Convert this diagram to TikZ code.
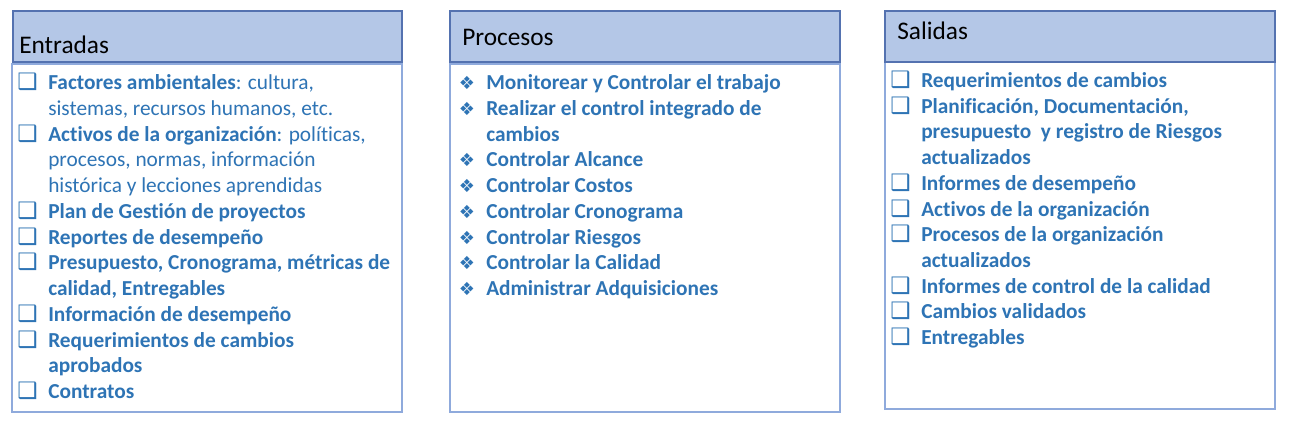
\documentclass[tikz,border=0pt]{standalone}
\usepackage{fontspec}
\setmainfont{Carlito}[Ligatures=NoCommon]
\newfontfamily\symf{DejaVu Sans}
\definecolor{tblue}{RGB}{46,116,181}
\definecolor{hfill}{RGB}{180,199,231}
\definecolor{hborder}{RGB}{84,114,176}
\definecolor{bborder}{RGB}{143,170,220}
\newcommand\Bq{\llap{{\color{tblue}\symf\fontsize{17}{17}\selectfont ❑}\hspace{8pt}}}
\newcommand\Bd{\llap{{\color{tblue}\symf\fontsize{13.5}{14}\selectfont ❖}\hspace{8.5pt}}}
\tikzset{
  hdr/.style={draw=hborder, line width=1.2pt, fill=hfill},
  bodybox/.style={draw=bborder, line width=1.2pt, fill=white},
  htxt/.style={anchor=base west, inner sep=0pt, text=black, font=\fontsize{19}{22}\selectfont},
  txt/.style={anchor=base west, inner sep=0pt, text=tblue, font=\fontsize{16}{19}\selectfont}
}
\begin{document}
\begin{tikzpicture}[x=0.75pt,y=-0.75pt]
\useasboundingbox (0,0) rectangle (1293,437);
% Entradas
\draw[bodybox] (12,64) rectangle (402,412);
\draw[hdr] (13,11) rectangle (402,62);
\node[htxt] (hE) at (19,53) {Entradas};
% Procesos
\draw[bodybox] (450,64) rectangle (840,412);
\draw[hdr] (450,11) rectangle (840,62);
\node[htxt] (hP) at (462,45.5) {Procesos};
% Salidas
\draw[bodybox] (885,62) rectangle (1275,409);
\draw[hdr] (885,11) rectangle (1275,62);
\node[htxt] (hS) at (897,39.5) {Salidas};
% Entradas items
\foreach \t [count=\i] in {
 {\Bq\textbf{Factores ambientales}: cultura,},
 {sistemas, recursos humanos, etc.},
 {\Bq\textbf{Activos de la organización}: políticas,},
 {procesos, normas, información},
 {histórica y lecciones aprendidas},
 {\Bq\textbf{Plan de Gestión de proyectos}},
 {\Bq\textbf{Reportes de desempeño}},
 {\Bq\textbf{Presupuesto, Cronograma, métricas de}},
 {\textbf{calidad, Entregables}},
 {\Bq\textbf{Información de desempeño}},
 {\Bq\textbf{Requerimientos de cambios}},
 {\textbf{aprobados}},
 {\Bq\textbf{Contratos}}}
 \node[txt] (e\i) at (48,{89.5+(\i-1)*25.75}) {\t};
% Procesos items
\foreach \t [count=\i] in {
 {\Bd\textbf{Monitorear y Controlar el trabajo}},
 {\Bd\textbf{Realizar el control integrado de}},
 {\textbf{cambios}},
 {\Bd\textbf{Controlar Alcance}},
 {\Bd\textbf{Controlar Costos}},
 {\Bd\textbf{Controlar Cronograma}},
 {\Bd\textbf{Controlar Riesgos}},
 {\Bd\textbf{Controlar la Calidad}},
 {\Bd\textbf{Administrar Adquisiciones}}}
 \node[txt] (p\i) at (486,{89.5+(\i-1)*25.75}) {\t};
% Salidas items
\foreach \t [count=\i] in {
 {\Bq\textbf{Requerimientos de cambios}},
 {\Bq\textbf{Planificación, Documentación,}},
 {\textbf{presupuesto\ \ y registro de Riesgos}},
 {\textbf{actualizados}},
 {\Bq\textbf{Informes de desempeño}},
 {\Bq\textbf{Activos de la organización}},
 {\Bq\textbf{Procesos de la organización}},
 {\textbf{actualizados}},
 {\Bq\textbf{Informes de control de la calidad}},
 {\Bq\textbf{Cambios validados}},
 {\Bq\textbf{Entregables}}}
 \node[txt] (s\i) at (921,{87.5+(\i-1)*25.72}) {\t};
\end{tikzpicture}
\end{document}
